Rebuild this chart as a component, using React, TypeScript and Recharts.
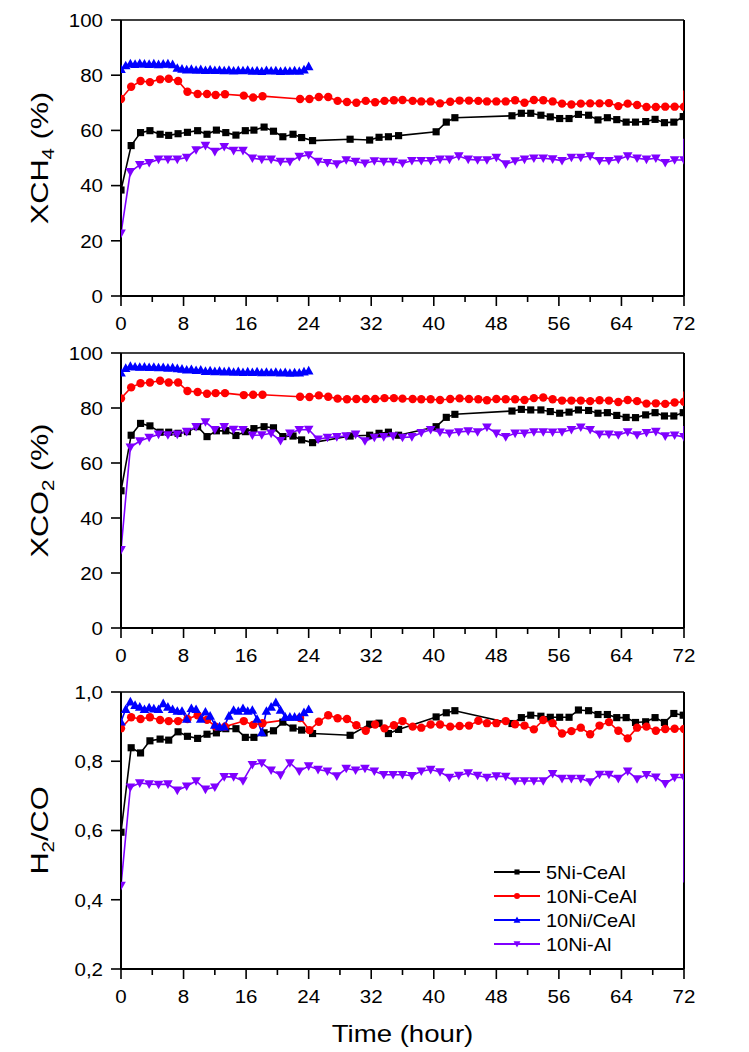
import React from 'react';
import { LineChart, Line, XAxis, YAxis, ReferenceLine, Label, Legend } from 'recharts';

const FONT = "'Liberation Sans', Arial, Helvetica, sans-serif";

// ---- time axes (hours) ----
const gridStep12 = Array.from({ length: 61 }, (_, i) => Math.round(i * 12) / 10);
const gridStep06 = Array.from({ length: 41 }, (_, i) => Math.round(i * 6) / 10);
const blackHours = [0, 1.3, 2.5, 3.7, 5.0, 6.1, 7.3, 8.5, 9.8, 11.0, 12.2, 13.4, 14.7, 15.9, 17.0, 18.3, 19.5, 20.7, 22.0, 23.1, 24.5,
  29.3, 31.8, 33.0, 34.2, 35.5, 40.3, 41.6, 42.7,
  50.0, 51.2, 52.4, 53.7, 54.9, 56.1, 57.3, 58.5, 59.8, 61.0, 62.2, 63.4, 64.6, 65.8, 67.1, 68.3, 69.5, 70.7, 71.9];
const redHours = [0, 1.3, 2.5, 3.7, 5.0, 6.1, 7.3, 8.5, 9.8, 11.0, 12.1, 13.3, 15.7, 16.9, 18.1,
  22.9, 24.1, 25.3, 26.5, 27.7, 28.9, 30.1, 31.3, 32.5, 33.7, 34.9, 36.0, 37.3, 38.4, 39.6, 40.8, 42.1, 43.3, 44.5, 45.7,
  46.8, 48.0, 49.2, 50.4, 51.6, 52.8, 54.0, 55.2, 56.4, 57.6, 58.8, 60.0, 61.2, 62.4, 63.6, 64.8, 66.0, 67.2, 68.4, 69.6, 70.8, 72.0];

const xTicks = [0, 4, 8, 12, 16, 20, 24, 28, 32, 36, 40, 44, 48, 52, 56, 60, 64, 68, 72];
const pctTicks = [0, 20, 40, 60, 80, 100];
const ratioTicks = [0.2, 0.4, 0.6, 0.8, 1.0];

const seriesNames = ['5Ni-CeAl', '10Ni-CeAl', '10Ni/CeAl', '10Ni-Al'];
const seriesColors = ['#000000', '#FF0000', '#0000FF', '#7F00FF'];
const seriesShapes = ['square', 'circle', 'up', 'down'];

// ---- XCH4 (%) ----
const ch4Black = [38.4, 54.5, 59.2, 59.9, 58.6, 58.2, 58.8, 59.3, 59.9, 58.6, 60.1, 59.2, 58.3, 59.9, 60.1, 61.2, 59.7, 57.7, 58.6, 57.4, 56.3,
  56.8, 56.5, 57.5, 57.7, 58.1, 59.5, 63.0, 64.6,
  65.3, 66.2, 66.2, 65.5, 64.9, 64.3, 64.3, 65.8, 65.5, 63.8, 64.6, 63.9, 63.0, 63.0, 63.2, 64.0, 62.8, 63.0, 65.0];
const ch4Red = [71.4, 75.8, 77.9, 77.5, 78.5, 78.7, 77.9, 74.0, 73.2, 73.2, 72.8, 73.1, 72.6, 71.9, 72.4,
  71.4, 71.4, 72.1, 72.1, 70.7, 70.3, 70.0, 70.7, 70.2, 70.7, 70.9, 71.0, 70.7, 70.5, 70.5, 69.8, 70.4, 70.8, 70.8, 70.7,
  70.5, 70.5, 70.5, 70.9, 70.0, 71.0, 70.9, 70.5, 69.7, 69.4, 69.7, 69.8, 69.8, 69.9, 68.8, 69.7, 69.2, 68.5, 68.5, 68.6, 68.6, 68.6];
const ch4Blue = [82.2, 83.5, 84.2, 84.0, 84.3, 84.1, 84.0, 84.2, 83.9, 84.1, 84.2, 83.9, 82.6, 82.3, 82.0, 82.2, 81.9, 82.1, 81.8, 82.0,
  81.8, 81.9, 81.7, 81.9, 81.6, 81.8, 81.7, 81.9, 81.5, 81.7, 81.4, 81.8, 81.6, 81.7, 81.4, 81.6, 81.5, 81.7, 81.5, 82.0, 83.2];
const ch4Purple = [22.7, 45.0, 47.5, 48.3, 49.5, 49.5, 49.5, 50.2, 52.9, 54.5, 52.3, 54.1, 52.7, 52.7, 49.9, 49.5, 49.5, 48.7, 48.7, 50.5,
  51.1, 48.7, 48.3, 47.8, 49.3, 48.7, 48.1, 48.9, 48.7, 48.7, 48.1, 49.0, 49.0, 49.0, 49.5, 49.5, 50.7, 49.5, 49.3, 49.3,
  50.2, 47.8, 48.9, 49.5, 49.9, 49.9, 49.6, 49.0, 50.2, 50.2, 50.7, 49.0, 49.0, 49.5, 50.7, 49.9, 49.5, 49.9, 48.3, 49.3, 49.3];
const ch4Edge = [66.0, 74.5, null, 57.0];

// ---- XCO2 (%) ----
const co2Black = [49.9, 70.1, 74.4, 73.5, 71.2, 71.2, 70.8, 71.4, 73.2, 69.6, 71.7, 71.7, 70.0, 71.4, 72.5, 73.2, 72.8, 69.6, 69.8, 68.4, 67.4,
  69.8, 70.1, 70.8, 71.2, 70.1, 73.2, 76.6, 77.7,
  78.9, 79.5, 79.3, 79.3, 78.7, 78.1, 78.5, 79.3, 79.1, 78.1, 78.3, 77.3, 76.6, 76.5, 77.5, 78.3, 77.1, 77.1, 78.3];
const co2Red = [83.5, 87.5, 89.0, 89.3, 89.9, 89.3, 89.3, 86.2, 85.8, 85.2, 85.4, 85.4, 84.7, 84.8, 84.8,
  84.1, 84.0, 84.6, 84.1, 83.4, 83.2, 83.3, 83.3, 83.3, 83.6, 83.6, 83.4, 83.3, 83.2, 83.2, 82.9, 83.3, 83.5, 83.3, 83.2,
  82.8, 83.3, 83.2, 83.2, 82.9, 83.6, 83.8, 83.2, 82.7, 82.7, 82.7, 82.5, 82.8, 82.7, 82.2, 82.9, 82.5, 81.6, 81.7, 81.5, 82.0, 82.3];
const co2Blue = [92.8, 94.5, 95.2, 95.0, 94.9, 95.0, 94.8, 94.9, 94.7, 94.8, 94.6, 94.7, 94.4, 94.2, 93.9, 94.1, 93.7, 93.9, 93.4, 93.6,
  93.3, 93.5, 93.2, 93.4, 93.1, 93.3, 93.0, 93.2, 93.0, 93.2, 92.9, 93.1, 92.9, 93.1, 92.8, 93.0, 92.7, 92.9, 92.8, 93.2, 93.6];
const co2Purple = [28.4, 65.7, 68.0, 69.3, 70.4, 70.2, 70.4, 71.4, 73.2, 74.9, 72.1, 73.2, 72.2, 72.1, 70.1, 70.2, 70.8, 68.1, 70.8, 72.1,
  72.2, 68.6, 69.3, 69.5, 69.8, 70.4, 68.0, 69.3, 69.5, 69.8, 69.3, 69.5, 71.0, 72.1, 71.2, 70.8, 71.3, 71.6, 71.3, 73.0,
  70.8, 69.5, 70.8, 70.8, 71.3, 71.3, 71.2, 71.3, 72.1, 73.0, 72.1, 70.4, 70.4, 70.2, 71.3, 70.2, 71.0, 71.4, 69.8, 70.1, 69.5];
const co2Edge = [79.0, 86.0, null, 73.5];

// ---- H2/CO ----
const h2coBlack = [0.595, 0.839, 0.824, 0.859, 0.864, 0.861, 0.885, 0.872, 0.866, 0.878, 0.882, 0.894, 0.894, 0.869, 0.869, 0.882, 0.888, 0.913, 0.896, 0.89, 0.88,
  0.875, 0.907, 0.91, 0.88, 0.892, 0.928, 0.94, 0.946,
  0.909, 0.926, 0.933, 0.93, 0.927, 0.927, 0.927, 0.948, 0.946, 0.935, 0.935, 0.926, 0.926, 0.912, 0.914, 0.926, 0.912, 0.938, 0.933];
const h2coRed = [0.895, 0.927, 0.922, 0.927, 0.919, 0.916, 0.916, 0.922, 0.933, 0.92, 0.9, 0.9, 0.916, 0.905, 0.91,
  0.925, 0.89, 0.914, 0.933, 0.924, 0.922, 0.904, 0.888, 0.906, 0.895, 0.904, 0.916, 0.9, 0.897, 0.906, 0.906, 0.9, 0.902, 0.903, 0.917,
  0.91, 0.91, 0.916, 0.907, 0.903, 0.892, 0.919, 0.91, 0.88, 0.887, 0.897, 0.878, 0.903, 0.913, 0.888, 0.866, 0.897, 0.9, 0.888, 0.893, 0.894, 0.893];
const h2coBlue = [0.914, 0.95, 0.972, 0.962, 0.957, 0.95, 0.955, 0.952, 0.95, 0.967, 0.957, 0.95, 0.945, 0.945, 0.922, 0.953, 0.95, 0.922, 0.943, 0.931,
  0.905, 0.9, 0.9, 0.931, 0.948, 0.945, 0.953, 0.945, 0.948, 0.922, 0.883, 0.945, 0.957, 0.97, 0.948, 0.928, 0.928, 0.928, 0.928, 0.941, 0.95];
const h2coPurple = [0.441, 0.725, 0.737, 0.734, 0.733, 0.734, 0.716, 0.728, 0.743, 0.719, 0.725, 0.755, 0.755, 0.743, 0.79, 0.795, 0.774, 0.76, 0.795, 0.771,
  0.786, 0.776, 0.771, 0.757, 0.779, 0.774, 0.779, 0.771, 0.761, 0.761, 0.761, 0.758, 0.771, 0.776, 0.769, 0.753, 0.759, 0.766, 0.759, 0.753,
  0.757, 0.756, 0.743, 0.743, 0.743, 0.743, 0.764, 0.75, 0.75, 0.75, 0.74, 0.762, 0.762, 0.75, 0.771, 0.749, 0.761, 0.754, 0.735, 0.753, 0.753];
const h2coEdge = [null, 0.75, null, 0.45];

type Pt = { t: number; v: number; edge?: boolean };

function toPoints(hours: number[], values: number[], edge: number | null): Pt[] {
  const pts: Pt[] = hours.map((t, i) => ({ t, v: values[i] }));
  if (edge != null) pts.push({ t: 72, v: edge, edge: true });
  return pts;
}

function marker(shape: string, cx: number, cy: number, color: string, s: number, key?: string) {
  switch (shape) {
    case 'square':
      return <rect key={key} x={cx - s * 0.85} y={cy - s * 0.85} width={s * 1.7} height={s * 1.7} fill={color} />;
    case 'circle':
      return <circle key={key} cx={cx} cy={cy} r={s} fill={color} />;
    case 'up':
      return <polygon key={key} points={`${cx},${cy - s * 1.15} ${cx + s * 1.15},${cy + s * 0.9} ${cx - s * 1.15},${cy + s * 0.9}`} fill={color} />;
    default:
      return <polygon key={key} points={`${cx - s * 1.15},${cy - s * 0.9} ${cx + s * 1.15},${cy - s * 0.9} ${cx},${cy + s * 1.15}`} fill={color} />;
  }
}

const makeDot = (shape: string, color: string) => (props: any) => {
  const { cx, cy, payload, index } = props;
  const key = `${shape}-${index}`;
  if (!payload || payload.edge || cx == null || cy == null) return <g key={key} />;
  return marker(shape, cx, cy, color, 4.2, key);
};

const XTick = (props: any) => {
  const { x, y, payload } = props;
  const v = payload.value;
  const major = v % 8 === 0;
  return (
    <g>
      <line x1={x} y1={y} x2={x} y2={y + (major ? 10 : 6)} stroke="#000" strokeWidth={1.6} />
      {major && (
        <text transform={`translate(${x},${y + 34}) scale(1.08,1)`} textAnchor="middle" fontSize={19} fontFamily={FONT} fill="#000">
          {v}
        </text>
      )}
    </g>
  );
};

const YTick = (props: any) => {
  const { x, y, payload, fmt } = props;
  return (
    <g>
      <line x1={x - 10} y1={y} x2={x} y2={y} stroke="#000" strokeWidth={1.6} />
      <text transform={`translate(${x - 18},${y + 6.8}) scale(1.08,1)`} textAnchor="end" fontSize={19} fontFamily={FONT} fill="#000">
        {fmt(payload.value)}
      </text>
    </g>
  );
};

const fmtPct = (v: number) => String(v);
const fmtRatio = (v: number) => v.toFixed(1).replace('.', ',');

const LegendBox = () => (
  <svg width={200} height={100} style={{ display: 'block', overflow: 'visible' }}>
    {seriesNames.map((name, i) => {
      const cy = 12 + 24 * i;
      return (
        <g key={name}>
          <line x1={0} y1={cy} x2={46} y2={cy} stroke={seriesColors[i]} strokeWidth={2} />
          {marker(seriesShapes[i], 23, cy, seriesColors[i], 3)}
          <text transform={`translate(52,${cy + 6.7}) scale(1.05,1)`} fontSize={19} fontFamily={FONT} fill="#000">
            {name}
          </text>
        </g>
      );
    })}
  </svg>
);

type PanelProps = {
  top: number;
  height: number;
  xAxisHeight: number;
  domain: [number, number];
  yTicks: number[];
  fmt: (v: number) => string;
  title: React.ReactNode;
  data: { hours: number[]; values: number[] }[];
  edges: (number | null)[];
  legend?: boolean;
  xTitle?: boolean;
};

function Panel({ top, height, xAxisHeight, domain, yTicks, fmt, title, data, edges, legend, xTitle }: PanelProps) {
  const renderYTitle = (p: any) => {
    const vb = p.viewBox || { x: 0, y: 20, width: 121, height: 276 };
    const cy = vb.y + vb.height / 2;
    return (
      <text transform={`translate(48,${cy}) rotate(-90) scale(1.28,1)`} textAnchor="middle" fontSize={24} fontFamily={FONT} fill="#000">
        {title}
      </text>
    );
  };
  const renderXTitle = (p: any) => {
    const vb = p.viewBox;
    return (
      <text transform={`translate(${vb.x + vb.width / 2},${vb.y + 73}) scale(1.2,1)`} textAnchor="middle" fontSize={23} fontFamily={FONT} fill="#000">
        Time (hour)
      </text>
    );
  };
  return (
    <div style={{ position: 'absolute', left: 0, top, width: 749, height }}>
      <LineChart width={749} height={height} margin={{ top: 20, right: 65, bottom: 0, left: 0 }}>
        <XAxis
          dataKey="t"
          type="number"
          domain={[0, 72]}
          ticks={xTicks}
          interval={0}
          tickSize={0}
          tickMargin={0}
          tickLine={false}
          tick={<XTick />}
          height={xAxisHeight}
          axisLine={{ stroke: '#000', strokeWidth: 2 }}
          allowDataOverflow
        >
          {xTitle ? <Label content={renderXTitle} /> : null}
        </XAxis>
        <YAxis
          type="number"
          domain={domain}
          ticks={yTicks}
          interval={0}
          width={121}
          tickSize={0}
          tickMargin={0}
          tickLine={false}
          tick={<YTick fmt={fmt} />}
          axisLine={{ stroke: '#000', strokeWidth: 2 }}
          allowDataOverflow
        >
          <Label content={renderYTitle} />
        </YAxis>
        <ReferenceLine y={domain[1]} stroke="#000" strokeWidth={1.5} />
        <ReferenceLine x={72} stroke="#000" strokeWidth={2} />
        {data.map((d, i) => (
          <Line
            key={seriesNames[i]}
            data={toPoints(d.hours, d.values, edges[i])}
            dataKey="v"
            name={seriesNames[i]}
            type="linear"
            stroke={seriesColors[i]}
            strokeWidth={1.6}
            dot={makeDot(seriesShapes[i], seriesColors[i])}
            activeDot={false}
            isAnimationActive={false}
          />
        ))}
        {legend ? (
          <Legend
            layout="vertical"
            align="center"
            verticalAlign="middle"
            content={LegendBox}
            wrapperStyle={{ left: 494, top: 188, width: 200, height: 100 }}
          />
        ) : null}
      </LineChart>
    </div>
  );
}

export default function App() {
  return (
    <div style={{ position: 'absolute', left: 0, top: 0, width: 749, height: 1052, background: '#fff' }}>
      <Panel
        top={0}
        height={340}
        xAxisHeight={44}
        domain={[0, 100]}
        yTicks={pctTicks}
        fmt={fmtPct}
        title={<>XCH<tspan dy={6} fontSize={16}>4</tspan><tspan dy={-6}> (%)</tspan></>}
        data={[
          { hours: blackHours, values: ch4Black },
          { hours: redHours, values: ch4Red },
          { hours: gridStep06, values: ch4Blue },
          { hours: gridStep12, values: ch4Purple },
        ]}
        edges={ch4Edge}
      />
      <Panel
        top={333}
        height={340}
        xAxisHeight={45}
        domain={[0, 100]}
        yTicks={pctTicks}
        fmt={fmtPct}
        title={<>XCO<tspan dy={6} fontSize={16}>2</tspan><tspan dy={-6}> (%)</tspan></>}
        data={[
          { hours: blackHours, values: co2Black },
          { hours: redHours, values: co2Red },
          { hours: gridStep06, values: co2Blue },
          { hours: gridStep12, values: co2Purple },
        ]}
        edges={co2Edge}
      />
      <Panel
        top={672}
        height={380}
        xAxisHeight={83}
        domain={[0.2, 1.0]}
        yTicks={ratioTicks}
        fmt={fmtRatio}
        title={<>H<tspan dy={6} fontSize={16}>2</tspan><tspan dy={-6}>/CO</tspan></>}
        data={[
          { hours: blackHours, values: h2coBlack },
          { hours: redHours, values: h2coRed },
          { hours: gridStep06, values: h2coBlue },
          { hours: gridStep12, values: h2coPurple },
        ]}
        edges={h2coEdge}
        legend
        xTitle
      />
    </div>
  );
}
